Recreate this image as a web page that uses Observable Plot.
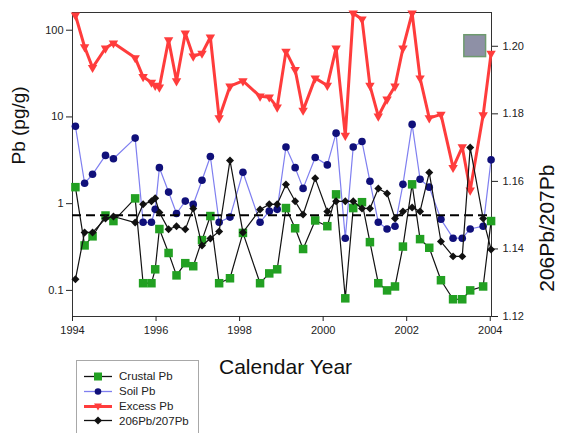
<!DOCTYPE html>
<html><head><meta charset="utf-8">
<script src="https://cdn.jsdelivr.net/npm/d3@7"></script>
<script src="https://cdn.jsdelivr.net/npm/@observablehq/plot@0.6"></script>
<style>
body{margin:0;background:#fff;font-family:"Liberation Sans",Arial,sans-serif;}
#wrap{position:relative;width:565px;height:433px;overflow:hidden;background:#fff;}
#chart{position:relative;height:348px;}
#chart svg{position:absolute;left:0;top:0;}
#below{position:relative;height:85px;}
.legend{position:absolute;left:76px;top:12px;width:123px;height:90px;border:1px solid #a8a8a8;box-sizing:border-box;}
.row{position:absolute;left:7px;height:14px;display:flex;align-items:center;font-size:11.5px;color:#222;white-space:nowrap;}
.row svg{margin-right:7px;}
.xtitle{position:absolute;left:219px;top:8px;font-size:21px;line-height:1;color:#111;}
</style></head><body>
<div id="wrap"><div id="chart"></div><div id="below"><div class="legend" id="legend"></div><div class="xtitle">Calendar Year</div></div></div>
<script>
// sampling dates (decimal years)
const years = [1994.07,1994.29,1994.48,1994.79,1994.98,1995.50,1995.69,1995.89,1995.98,1996.08,
  1996.30,1996.49,1996.70,1996.89,1997.10,1997.30,1997.51,1997.77,1998.08,1998.49,
  1998.71,1998.90,1999.11,1999.33,1999.52,1999.81,2000.10,2000.31,2000.53,2000.72,
  2000.93,2001.12,2001.32,2001.53,2001.72,2001.91,2002.13,2002.32,2002.54,2002.82,
  2003.11,2003.33,2003.52,2003.83,2004.02];
// Pb (pg/g)
const crustal = [1.55,0.33,0.42,0.73,0.63,1.15,0.121,0.121,0.175,0.51,
  0.27,0.149,0.206,0.19,0.38,0.72,0.121,0.138,0.46,0.121,
  0.157,0.175,0.89,0.52,0.30,0.64,0.55,1.28,0.081,0.89,
  1.04,0.36,0.121,0.100,0.111,0.32,1.67,0.39,0.31,0.131,
  0.079,0.079,0.100,0.111,0.63];
const soil = [7.8,1.72,2.18,3.6,3.3,5.7,0.61,0.61,0.86,2.6,
  1.36,0.77,1.07,0.98,1.86,3.5,0.61,0.70,2.3,0.61,
  0.82,0.86,4.5,2.6,1.5,3.4,2.8,6.5,0.40,4.5,
  5.2,1.81,0.61,0.51,0.55,1.67,8.2,1.91,1.55,0.66,
  0.40,0.40,0.51,0.55,3.2];
const excess = [149,64,37,62,71,48,29,25,23,22,
  77,26,92,50,54,83,9.7,22.6,26,17.3,
  16.9,12.9,57,35,11.9,28,23,62,6.1,157,
  134,23,10.2,16,22.6,62,157,28,9.7,10.7,
  2.6,4.5,1.43,10.5,54];
// 206Pb/207Pb ratio (right axis)
const ratio = [1.131,1.1449,1.1449,1.149,1.1496,1.1478,1.1532,1.1541,1.1550,1.1508,
  1.1458,1.1467,1.1458,1.1520,1.1410,1.1431,1.1452,1.1662,1.1449,1.1517,
  1.1532,1.1532,1.1591,1.1541,1.1502,1.1609,1.1511,1.1541,1.1541,1.1541,
  1.1520,1.1520,1.1579,1.1564,1.1490,1.1511,1.1523,1.1511,1.1626,1.1422,
  1.1378,1.1378,1.1700,1.1490,1.1398];
const refRatio = 1.15;
const leftTicks = [0.1, 1, 10, 100];
const rightTicks = [1.12, 1.14, 1.16, 1.18, 1.20];
const xTicks = [1994, 1996, 1998, 2000, 2002, 2004];
const xDomain = [1994, 2004.03];
const leftDomain = [0.05, 160];
const rightDomain = [1.12, 1.21];
const markerBox = [{x1: 2003.38, x2: 2003.90, y1: 49, y2: 87.5}];

const rows = years.map((t, i) => ({t, crustal: crustal[i], soil: soil[i], excess: excess[i], ratio: ratio[i]}));

const C = {green: "#22a022", navy: "#10107a", blueLine: "#7f7ff0", red: "#ff3c3c", black: "#111"};
const frame = {width: 565, height: 348, marginTop: 12, marginBottom: 32, marginLeft: 72, marginRight: 74};
const style = {fontFamily: "Liberation Sans, Arial, sans-serif", fontSize: "11px", color: "#222", background: "transparent"};

const left = Plot.plot({
  ...frame, style,
  x: {domain: xDomain},
  y: {type: "log", domain: leftDomain},
  marks: [
    Plot.frame({stroke: "#333"}),
    Plot.axisY(leftTicks, {anchor: "left", tickSize: 6, tickPadding: 3, tickFormat: d => String(d), label: null}),
    Plot.axisX(xTicks, {tickSize: 5, tickPadding: 5, tickFormat: "d", label: null}),
    Plot.text(["Pb (pg/g)"], {frameAnchor: "left", dx: -54, rotate: -90, fontSize: 19, fill: "#111"}),
    Plot.text(["206Pb/207Pb"], {frameAnchor: "right", dx: 56, rotate: -90, fontSize: 21, fill: "#111"}),
    Plot.rect(markerBox, {x1: "x1", x2: "x2", y1: "y1", y2: "y2", fill: "#8e90a6", stroke: "#6e9a6e", strokeWidth: 1.5}),
    Plot.line(rows, {x: "t", y: "crustal", stroke: C.black, strokeWidth: 1.2}),
    Plot.dot(rows, {x: "t", y: "crustal", symbol: "square", r: 4.8, fill: C.green, stroke: "none"}),
    Plot.line(rows, {x: "t", y: "soil", stroke: C.blueLine, strokeWidth: 1.2}),
    Plot.dot(rows, {x: "t", y: "soil", symbol: "circle", r: 3.8, fill: C.navy, stroke: "none"}),
    Plot.line(rows, {x: "t", y: "excess", stroke: C.red, strokeWidth: 3}),
    Plot.dot(rows, {x: "t", y: "excess", symbol: "triangle", rotate: 180, r: 3.5, fill: C.red, stroke: "none"})
  ]
});

const right = Plot.plot({
  ...frame, style,
  x: {domain: xDomain, axis: null},
  y: {domain: rightDomain},
  marks: [
    Plot.axisY(rightTicks, {anchor: "right", tickSize: 6, tickPadding: 5, tickFormat: ".2f", label: null}),
    Plot.ruleY([refRatio], {stroke: "#000", strokeWidth: 2, strokeDasharray: "9,5"}),
    Plot.line(rows, {x: "t", y: "ratio", stroke: C.black, strokeWidth: 1.2}),
    Plot.dot(rows, {x: "t", y: "ratio", symbol: "diamond2", r: 3.6, fill: C.black, stroke: "none"})
  ]
});
const holder = document.getElementById("chart");
holder.appendChild(left);
holder.appendChild(right);

// legend
const legendItems = [
  {label: "Crustal Pb", line: C.black, marker: "square", fill: C.green},
  {label: "Soil Pb", line: C.blueLine, marker: "circle", fill: C.navy},
  {label: "Excess Pb", line: C.red, marker: "tri", fill: C.red, lw: 3},
  {label: "206Pb/207Pb", line: C.black, marker: "diamond", fill: C.black}
];
const tops = [8, 23, 38, 52.5];
const leg = document.getElementById("legend");
legendItems.forEach((it, i) => {
  let m = "";
  if (it.marker === "square") m = `<rect x="10" y="1.5" width="8" height="8" fill="${it.fill}"/>`;
  else if (it.marker === "circle") m = `<circle cx="14" cy="5.5" r="3.3" fill="${it.fill}"/>`;
  else if (it.marker === "tri") m = `<path d="M10,2.5L18,2.5L14,9.5Z" fill="${it.fill}"/>`;
  else m = `<path d="M14,1.5L18,5.5L14,9.5L10,5.5Z" fill="${it.fill}"/>`;
  const row = document.createElement("div");
  row.className = "row";
  row.style.top = tops[i] + "px";
  row.innerHTML = `<svg width="28" height="11"><line x1="0" x2="28" y1="5.5" y2="5.5" stroke="${it.line}" stroke-width="${it.lw || 1.3}"/>${m}</svg><span>${it.label}</span>`;
  leg.appendChild(row);
});
</script>
</body></html>
